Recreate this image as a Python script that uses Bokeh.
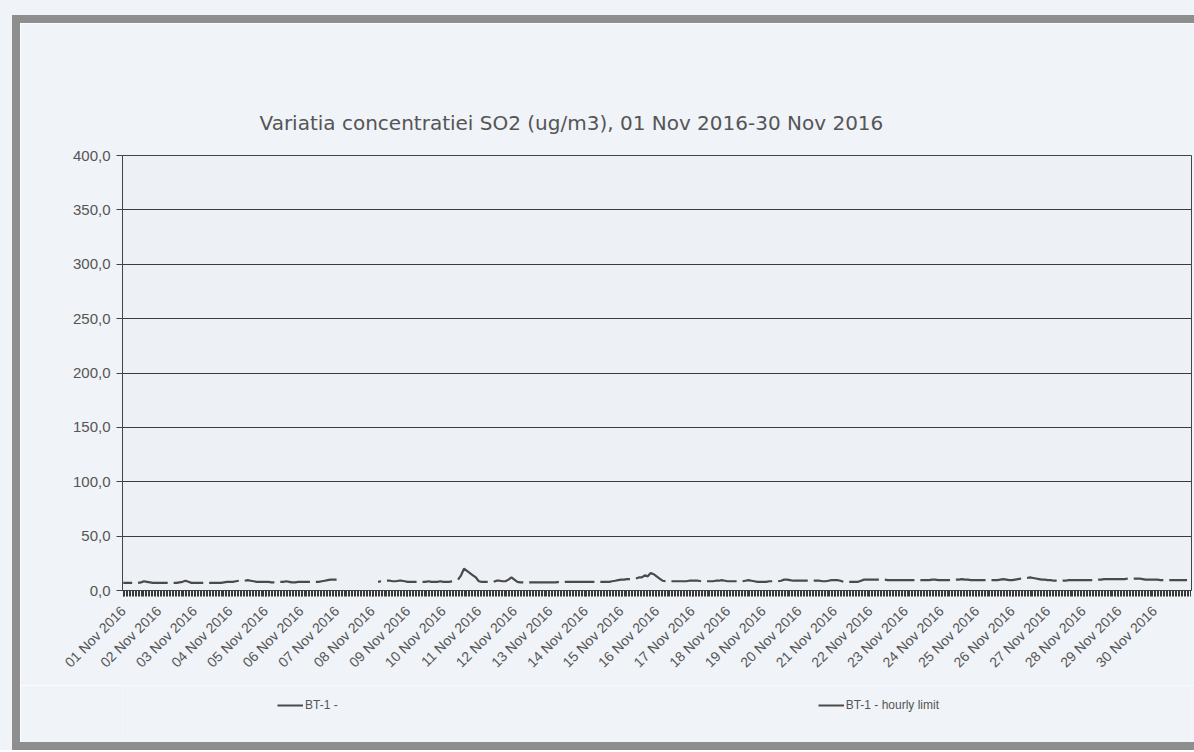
import math
from bokeh.plotting import figure
from bokeh.models import (Range1d, FixedTicker, Legend, LegendItem, ColumnDataSource, Div)
from bokeh.layouts import column, row
from bokeh.embed import file_html
from bokeh.resources import INLINE

nan = float("nan")

# ---- data ----
title_text = "Variatia concentratiei  SO2 (ug/m3),  01 Nov 2016-30 Nov 2016"
day_labels = ["%02d Nov 2016" % d for d in range(1, 31)]
hours_of_day = [0, 2, 4, 6, 8, 10, 12, 14, 16, 18, 20, 22]
y_ticks = [0, 50, 100, 150, 200, 250, 300, 350, 400]
y_tick_labels = ["0,0", "50,0", "100,0", "150,0", "200,0", "250,0", "300,0", "350,0", "400,0"]
series_names = ["BT-1 -", "BT-1 - hourly limit"]

# SO2 concentration, 2-hourly readings per day (ug/m3)
so2_by_day = [
    [7, 7, 7, 7, nan, 7, 7.5, 8.5, 8, 7.5, 7, 7],            # 01 Nov
    [7, 7, 7, 7, nan, 7, 7, 7.5, 8, 9, 8, 7],                # 02 Nov
    [7, 7, 7, 7, nan, 7, 7, 7, 7, 7, 7.5, 8],                # 03 Nov
    [8, 8, 8.5, 9, nan, 9, 9.5, 9, 8.5, 8, 8, 8],            # 04 Nov
    [8, 8, 7.5, 7.5, nan, 8, 8, 8.5, 8, 7.5, 7.5, 8],        # 05 Nov
    [8, 8, 8, 8, nan, 8, 8, 8.5, 9, 9.5, 10, 10],            # 06 Nov
    [10, nan, nan, nan, nan, nan, nan, nan, nan, nan, nan, nan],  # 07 Nov
    [nan, nan, 8, 8.5, nan, 9, 9, 8.5, 8.5, 9, 9, 8.5],      # 08 Nov
    [8, 8, 8, 8, nan, 8, 8, 8.5, 8, 8, 8, 8.5],              # 09 Nov
    [8, 8, 8, 8.5, nan, 10, 14, 20, 18, 16, 14, 12],         # 10 Nov
    [8.5, 8, 8, 8, nan, 8, 9, 9, 8.5, 8.5, 10, 12],          # 11 Nov
    [10, 8, 7.5, 7.5, nan, 7.5, 7.5, 7.5, 7.5, 7.5, 7.5, 7.5],  # 12 Nov
    [7.5, 7.5, 7.5, 8, nan, 8, 8, 8, 8, 8, 8, 8],            # 13 Nov
    [8, 8, 8, 8, nan, 8, 8, 8, 8, 8.5, 9, 9.5],              # 14 Nov
    [10, 10, 10.5, 10.5, nan, 11, 12, 12, 14, 13, 16, 15],   # 15 Nov
    [13, 11, 9, 8.5, nan, 8.5, 8.5, 8.5, 8.5, 8.5, 8.5, 9],  # 16 Nov
    [9, 9, 9, 8.5, nan, 8.5, 8.5, 8.5, 9, 9, 9.5, 9],        # 17 Nov
    [8.5, 8.5, 8.5, 8.5, nan, 8.5, 9, 9.5, 9, 8.5, 8, 8],    # 18 Nov
    [8, 8, 8.5, 8.5, nan, 8.5, 9, 10, 10, 9.5, 9, 9],        # 19 Nov
    [9, 9, 9, 9, nan, 9, 9, 9, 8.5, 8.5, 9, 9.5],            # 20 Nov
    [9.5, 9.5, 9, 8, nan, 8, 8, 8, 8, 9, 10, 10],            # 21 Nov
    [10, 10, 10, 10, nan, 10, 9.5, 9.5, 9.5, 9.5, 9.5, 9.5], # 22 Nov
    [9.5, 9.5, 9.5, 9.5, nan, 9.5, 9.5, 9.5, 9.5, 10, 10, 9.5],  # 23 Nov
    [9.5, 9.5, 9.5, 9.5, nan, 10, 10, 10.5, 10, 10, 9.5, 9.5],   # 24 Nov
    [9.5, 9.5, 9.5, 9.5, nan, 9.5, 9.5, 9.5, 10, 10.5, 10, 9.5], # 25 Nov
    [9.5, 10, 10.5, 11, nan, 11.5, 12, 11.5, 11, 10.5, 10, 10],  # 26 Nov
    [9.5, 9.5, 9, 9, nan, 9, 9, 9.5, 9.5, 9.5, 9.5, 9.5],        # 27 Nov
    [9.5, 9.5, 9.5, 9.5, nan, 10, 10, 10.5, 10.5, 10.5, 10.5, 10.5],  # 28 Nov
    [10.5, 10.5, 10.5, 11, nan, 11, 11, 11, 10.5, 10, 10, 10],   # 29 Nov
    [10, 10, 9.5, 9.5, nan, 9.5, 9.5, 9.5, 9.5, 9.5, 9.5, 9.5],  # 30 Nov
]
# hourly limit series: no values drawn in the chart
limit_values = []

# ---- build ----
xs, ys = [], []
for d, row_vals in enumerate(so2_by_day):
    for h, v in zip(hours_of_day, row_vals):
        xs.append(d * 24 + h)
        ys.append(v)

n_hours = 24 * len(day_labels)
day_ticks = [24 * d for d in range(len(day_labels))]
hour_ticks = list(range(0, n_hours + 1))

BG = "#f0f3f8"
GREY = "#8e8e8e"
TXT = "#555555"
LINE = "#4a4a4a"
W = 1174
H_MAIN = 662
H_LEG = 57

p = figure(width=W, height=H_MAIN, output_backend="svg", toolbar_location=None,
           x_range=Range1d(-0.5, n_hours + 1), y_range=Range1d(0, 400),
           min_border_left=102, min_border_right=3, min_border_top=132,
           min_border_bottom=95)

p.background_fill_color = "#edf0f5"
p.border_fill_color = BG
p.outline_line_color = "#444444"
p.outline_line_width = 1

p.title.text = title_text
p.title.align = "left"
p.title.offset = 137
p.title.text_font = "DejaVu Sans"
p.title.text_font_size = "20px"
p.title.text_font_style = "normal"
p.title.text_color = TXT
p.title.standoff = 42

# y axis
p.yaxis.ticker = FixedTicker(ticks=y_ticks)
p.yaxis.major_label_overrides = {t: l for t, l in zip(y_ticks, y_tick_labels)}
p.yaxis.major_label_text_font = "Liberation Sans"
p.yaxis.major_label_text_font_size = "15px"
p.yaxis.major_label_text_color = TXT
p.yaxis.axis_line_color = "#444444"
p.yaxis.major_tick_line_color = "#444444"
p.yaxis.major_tick_in = 0
p.yaxis.major_tick_out = 6
p.yaxis.minor_tick_line_color = None
p.yaxis.major_label_standoff = 6

# x axis
p.xaxis.ticker = FixedTicker(ticks=day_ticks, minor_ticks=hour_ticks)
p.xaxis.major_label_overrides = {t: l for t, l in zip(day_ticks, day_labels)}
p.xaxis.major_label_orientation = math.pi / 4
p.xaxis.major_label_text_font = "Liberation Sans"
p.xaxis.major_label_text_font_size = "14px"
p.xaxis.major_label_text_color = TXT
p.xaxis.axis_line_color = "#444444"
p.xaxis.major_tick_line_color = "#3a3a3a"
p.xaxis.major_tick_in = 0
p.xaxis.major_tick_out = 6
p.xaxis.minor_tick_line_color = "#3a3a3a"
p.xaxis.minor_tick_in = 0
p.xaxis.minor_tick_out = 6
p.xaxis.major_label_standoff = 12

p.xgrid.grid_line_color = None
p.ygrid.grid_line_color = "#3c3c3c"
p.ygrid.grid_line_width = 1

src = ColumnDataSource(dict(x=xs, y=ys))
p.line("x", "y", source=src, line_color=LINE, line_width=2.2)

# legend strip below the chart
lg = figure(width=W, height=H_LEG, output_backend="svg", toolbar_location=None,
            x_range=Range1d(0, 1), y_range=Range1d(0, 1),
            min_border_left=0, min_border_right=0, min_border_top=0,
            min_border_bottom=0, x_axis_type=None, y_axis_type=None)
lg.background_fill_color = BG
lg.border_fill_color = BG
lg.outline_line_color = None
lg.grid.grid_line_color = None
r1 = lg.line(x=[nan], y=[nan], line_color=LINE, line_width=2)
r2 = lg.line(x=[nan], y=limit_values or [nan], line_color=LINE, line_width=2)
legend = Legend(items=[LegendItem(label=series_names[0], renderers=[r1]),
                       LegendItem(label=series_names[1], renderers=[r2])],
                orientation="horizontal", location=(155, 27),
                spacing=480, glyph_width=26, glyph_height=20, label_standoff=2,
                label_text_font="Liberation Sans", label_text_font_size="12px",
                label_text_color=TXT, background_fill_alpha=0,
                border_line_color=None, padding=0, margin=0)
lg.add_layout(legend, "center")


def band(w, h, color):
    return Div(text="", width=w, height=h, margin=0,
               styles={"background-color": color})


layout = column(
    band(1194, 15, BG),
    row(band(12, 735, BG), band(8, 735, GREY),
        column(band(W, 8, GREY), p, lg, band(W, 8, GREY), spacing=0), spacing=0),
    spacing=0)

open("out.html", "w").write(file_html(layout, INLINE))
